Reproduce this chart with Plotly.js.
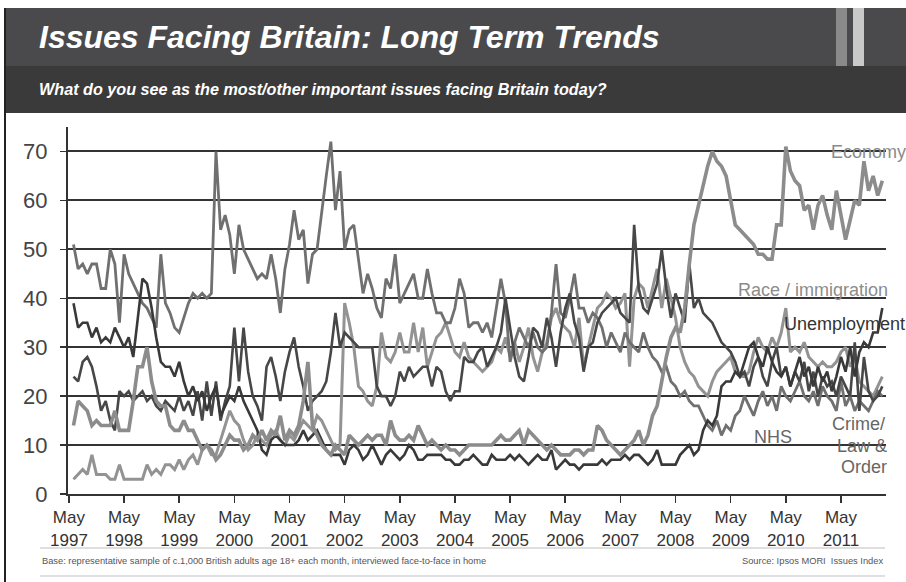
<!DOCTYPE html>
<html>
<head>
<meta charset="utf-8">
<script src="https://cdn.plot.ly/plotly-3.0.1.min.js"></script>
<style>
html,body{margin:0;padding:0;background:#fff;}
#chart{width:906px;height:582px;}
</style>
</head>
<body>
<div id="chart"></div>
<script>
// Monthly Ipsos MORI Issues Index readings, Jun 1997 onwards (values in %)
var startMonthOffset = 1; // first reading is one month after the May 1997 tick
var tickYears = ["1997","1998","1999","2000","2001","2002","2003","2004","2005","2006","2007","2008","2009","2010","2011"];
var tickMonth = "May";

var nhs = [
 51,46,47,45,47,47,42,42,50,47,35,49,
 45,43,41,39,38,36,34,49,39,37,34,33,
 36,39,41,40,41,40,41,70,54,57,53,45,
 55,50,48,46,44,45,44,49,44,37,46,51,
 58,52,54,43,49,50,58,65,72,58,66,50,
 54,55,48,41,45,42,38,36,44,42,49,39,
 41,43,45,40,40,46,41,37,37,35,35,38,
 44,41,34,35,35,33,35,32,38,44,39,27,
 31,34,32,30,33,30,29,30,37,47,37,36,
 40,45,38,38,35,37,36,34,30,33,31,29,
 33,31,30,29,33,30,28,27,25,26,23,22,
 20,21,19,18,18,16,14,13,15,12,14,13,
 16,17,20,18,16,19,21,18,20,17,22,20,
 19,21,23,20,19,21,18,22,20,19,17,23,
 18,20,17,19,18,17,19,21,20
];
var economy = [
 14,19,18,17,14,15,14,14,14,17,13,13,
 13,19,26,26,30,23,19,18,18,14,13,13,
 15,13,13,11,9,10,9,7,8,10,12,11,
 11,9,10,12,11,13,11,13,12,16,11,13,
 12,14,19,27,14,12,10,9,8,10,9,8,
 12,11,10,11,12,11,12,12,10,15,12,11,
 11,12,11,14,12,10,11,10,9,10,9,9,
 8,9,10,10,10,10,10,10,11,12,11,11,
 12,13,10,13,12,11,10,9,10,9,8,8,
 8,9,9,8,9,9,14,13,11,10,9,8,
 9,10,11,13,10,12,16,18,23,28,32,34,
 33,38,47,55,59,63,67,70,68,67,65,60,
 55,54,53,52,51,49,49,48,48,55,55,71,
 66,64,63,58,59,54,59,61,57,54,62,57,
 52,56,60,59,68,62,65,61,64
];
var unemployment = [
 39,34,35,35,32,34,31,32,31,34,32,30,
 32,28,36,44,43,38,32,27,26,26,24,27,
 23,20,22,19,21,17,20,22,16,18,20,19,
 22,19,17,15,13,9,8,11,12,11,10,10,
 10,11,13,11,12,13,11,9,8,8,8,6,
 9,10,9,7,8,10,8,6,8,9,8,7,
 8,10,9,7,7,8,8,8,8,7,7,6,
 6,7,7,8,7,6,6,8,7,7,7,8,
 7,8,7,6,7,8,7,7,9,5,6,7,
 6,6,5,6,6,6,6,7,6,7,7,7,
 8,7,8,8,7,6,7,9,6,6,6,6,
 8,9,10,8,9,13,15,14,16,22,23,23,
 25,24,27,30,31,28,26,30,27,25,24,26,
 22,25,28,24,26,22,26,23,25,21,24,28,
 25,30,24,29,31,30,33,33,38
];
var crime = [
 24,23,27,28,26,22,17,19,15,13,21,20,
 21,19,20,21,19,20,18,17,19,18,17,20,
 17,19,16,21,15,23,16,23,15,19,22,34,
 23,34,25,20,18,15,26,28,24,19,25,29,
 32,26,22,17,19,20,21,23,29,37,30,33,
 32,31,30,30,30,30,22,20,20,18,20,25,
 23,26,24,25,26,26,22,26,25,21,19,21,
 21,28,27,27,29,30,26,28,30,33,40,34,
 28,24,23,28,34,33,30,36,32,26,33,38,
 41,35,32,25,30,31,35,37,38,39,40,37,
 36,35,55,42,38,37,40,43,50,42,36,41,
 38,35,47,38,40,37,36,35,33,31,30,29,
 27,24,25,22,26,28,24,22,27,30,24,26,
 22,25,23,27,21,25,20,24,22,23,20,24,
 22,20,31,17,28,21,19,20,22
];
var race = [
 3,4,5,4,8,4,4,4,3,3,6,3,
 3,3,3,3,6,4,5,4,6,6,5,7,
 5,7,8,6,9,10,8,8,11,14,17,15,
 14,11,9,10,12,11,10,12,13,11,10,12,
 11,13,15,14,13,16,15,13,11,9,10,39,
 35,30,22,21,19,18,22,33,28,27,29,33,
 29,29,35,29,34,26,29,32,33,35,32,29,
 28,31,28,27,26,25,26,27,30,29,32,28,
 31,27,30,34,28,25,29,31,36,38,35,34,
 33,30,36,26,30,34,38,39,41,40,38,39,
 41,26,40,43,42,38,42,46,38,44,40,36,
 30,27,25,24,22,21,20,23,25,26,27,28,
 25,24,24,25,29,32,30,29,32,30,33,38,
 29,30,29,31,28,27,26,27,26,26,27,29,
 30,26,28,23,22,21,20,22,24
];

var seriesNames = ["NHS","Economy","Race / immigration","Unemployment","Crime/Law & Order"];

// ---- layout helpers (pixel -> paper) ----
var W = 906, H = 582;
var M = {l:68, r:20, t:127, b:88};
var PW = W - M.l - M.r, PH = H - M.t - M.b;
function px(x){ return (x - M.l) / PW; }
function py(y){ return (H - M.b - y) / PH; }

function monthIdx(arr){ var o=[]; for (var i=0;i<arr.length;i++) o.push(i + startMonthOffset); return o; }

var FONT = "Liberation Sans, Arial, sans-serif";

var traces = [
 {name:seriesNames[2], y:race, color:"#939393", width:3},
 {name:seriesNames[0], y:nhs, color:"#707070", width:2.8},
 {name:seriesNames[4], y:crime, color:"#474747", width:2.6},
 {name:seriesNames[3], y:unemployment, color:"#393939", width:2.6},
 {name:seriesNames[1], y:economy, color:"#8c8c8c", width:3.6}
].map(function(s){
  return {type:"scatter", mode:"lines", name:s.name, x:monthIdx(s.y), y:s.y,
          line:{color:s.color, width:s.width}, hoverinfo:"name+y"};
});

var tickvals = tickYears.map(function(y,i){ return i*12; });
var ticktext = tickYears.map(function(y){ return tickMonth + "<br>" + y; });

var shapes = [
 {type:"rect", xref:"paper", yref:"paper", x0:px(5), x1:px(906), y0:py(66), y1:py(8), fillcolor:"#4a4a4c", line:{width:0}, layer:"below"},
 {type:"rect", xref:"paper", yref:"paper", x0:px(5), x1:px(906), y0:py(113), y1:py(66), fillcolor:"#3a3a3a", line:{width:0}, layer:"below"},
 {type:"rect", xref:"paper", yref:"paper", x0:px(836), x1:px(847), y0:py(66), y1:py(8), fillcolor:"#8a8a8a", line:{width:0}, layer:"below"},
 {type:"rect", xref:"paper", yref:"paper", x0:px(853), x1:px(864), y0:py(66), y1:py(8), fillcolor:"#c9c9c9", line:{width:0}, layer:"below"},
 {type:"line", xref:"paper", yref:"paper", x0:px(5), x1:px(5), y0:py(8), y1:py(582), line:{color:"#222", width:2}},
 {type:"line", xref:"paper", yref:"paper", x0:px(40), x1:px(885), y0:py(548), y1:py(548), line:{color:"#d4d4d4", width:1.5}},
 {type:"line", xref:"paper", yref:"paper", x0:px(40), x1:px(885), y0:py(576), y1:py(576), line:{color:"#d4d4d4", width:1.5}}
];

function lab(text, x, y, anchor, color){
  return {text:text, xref:"paper", yref:"paper", x:px(x), y:py(y), xanchor:anchor, yanchor:"middle",
          showarrow:false, font:{family:FONT, size:18, color:color}};
}

var annotations = [
 {text:"<b><i>Issues Facing Britain: Long Term Trends</i></b>", xref:"paper", yref:"paper", x:px(37), y:py(37),
  xanchor:"left", yanchor:"middle", showarrow:false, font:{family:FONT, size:32, color:"#ffffff"}},
 {text:"<b><i>What do you see as the most/other important issues facing Britain today?</i></b>", xref:"paper", yref:"paper", x:px(37), y:py(89),
  xanchor:"left", yanchor:"middle", showarrow:false, font:{family:FONT, size:16.2, color:"#ffffff"}},
 {text:"Base: representative sample of c.1,000 British adults age 18+ each month, interviewed face-to-face in home", xref:"paper", yref:"paper", x:px(40), y:py(561),
  xanchor:"left", yanchor:"middle", showarrow:false, font:{family:FONT, size:9.3, color:"#555"}},
 {text:"Source: Ipsos MORI  Issues Index", xref:"paper", yref:"paper", x:px(885), y:py(561),
  xanchor:"right", yanchor:"middle", showarrow:false, font:{family:FONT, size:9.3, color:"#555"}},
 lab("Economy", 829, 152, "left", "#8a8a8a"),
 lab("Race / immigration", 736, 290, "left", "#8c8c8c"),
 lab("Unemployment", 782, 324, "left", "#333333"),
 lab("NHS", 752, 437, "left", "#666666"),
 lab("Crime/", 887, 424, "right", "#666666"),
 lab("Law &amp;", 889, 446, "right", "#666666"),
 lab("Order", 889, 467, "right", "#666666")
];

var layout = {
  width:W, height:H, margin:M, paper_bgcolor:"#ffffff", plot_bgcolor:"#ffffff",
  showlegend:false, hovermode:"closest",
  font:{family:FONT, color:"#333"},
  xaxis:{range:[-0.2,177.8], tickvals:tickvals, ticktext:ticktext, showgrid:false, zeroline:false,
         showline:true, linecolor:"#333", linewidth:2, ticks:"outside", ticklen:7, tickwidth:1.5, tickcolor:"#333",
         tickfont:{family:FONT, size:17, color:"#333"}, fixedrange:true},
  yaxis:{range:[0,75], tickvals:[0,10,20,30,40,50,60,70], showgrid:true, gridcolor:"#333", gridwidth:2,
         zeroline:false, showline:true, linecolor:"#333", linewidth:2, ticks:"outside", ticklen:6, tickwidth:1.5, tickcolor:"#333",
         ticklabelstandoff:8,
         tickfont:{family:FONT, size:22, color:"#444"}, fixedrange:true},
  shapes:shapes, annotations:annotations
};

Plotly.newPlot("chart", traces, layout, {displayModeBar:false, staticPlot:true});
</script>
</body>
</html>
